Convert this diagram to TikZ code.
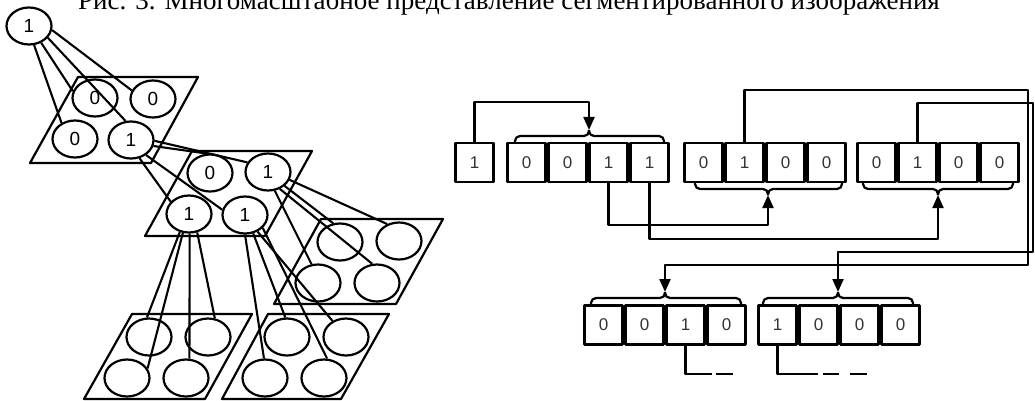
\documentclass[tikz,border=0pt]{standalone}
\usepackage{fontspec}
\setmainfont{Liberation Serif}
\setsansfont{Liberation Sans}
\usetikzlibrary{arrows.meta,shapes.geometric}
\begin{document}
\begin{tikzpicture}[x=1pt,y=-1pt,line width=2.1pt,line join=round,
  ell/.style={draw,ellipse,minimum width=45pt,minimum height=37pt,inner sep=0pt,line width=2.2pt,font=\sffamily\fontsize{19}{19}\selectfont},
  bx/.style={draw,minimum width=38pt,minimum height=39pt,inner sep=0pt,line width=2.4pt,font=\sffamily\fontsize{17}{17}\selectfont,text=black!80},
  arr/.style={-{Triangle[length=13pt,width=11pt]}},
  brc/.style={rounded corners=5pt,line width=2.2pt},
  plane/.style={line width=2.2pt}]
\useasboundingbox (0,0) rectangle (1035,401);
\node[anchor=base,font=\fontsize{27}{27}\selectfont] (cap) at (509,9.5) {Рис. 3. Многомасштабное представление сегментированного изображения};
% planes
\draw[plane] (78,77) -- (198,77) -- (151,163) -- (30,163) -- cycle;
\draw[plane] (192,151) -- (312,151) -- (265,236) -- (145,236) -- cycle;
\draw[plane] (321,219) -- (443,219) -- (396,304) -- (274,304) -- cycle;
\draw[plane] (132,314) -- (252,314) -- (205,399) -- (84,399) -- cycle;
\draw[plane] (268,314) -- (389,314) -- (341,399) -- (222,399) -- cycle;
% ellipses
\node[ell] (r0) at (29,26) {1};
\node[ell] (p1a) at (95,98) {0};
\node[ell] (p1b) at (153,99) {0};
\node[ell] (p1c) at (75,139) {0};
\node[ell] (p1d) at (131,140) {1};
\node[ell] (p2a) at (210,173) {0};
\node[ell] (p2b) at (268,172) {1};
\node[ell] (p2c) at (189,214) {1};
\node[ell] (p2d) at (245,215) {1};
\node[ell] (ra) at (340,242) {};
\node[ell] (rb) at (399,241) {};
\node[ell] (rc) at (318,283) {};
\node[ell] (rd) at (377,283) {};
\node[ell] (da) at (149,337) {};
\node[ell] (db) at (208,337) {};
\node[ell] (dc) at (127,378) {};
\node[ell] (dd) at (186,378) {};
\node[ell] (ea) at (287,337) {};
\node[ell] (eb) at (346,337) {};
\node[ell] (ec) at (265,378) {};
\node[ell] (ed) at (324,378) {};
% tree connectors
\draw (r0.-10) -- (p1b.158);
\draw (r0.-32) -- (p1d.106);
\draw (r0.-54) -- (p1a.163);
\draw (r0.-75) -- (p1c.130);
\draw (p1d.-2) -- (p2b.155);
\draw (p1d.-15) -- (p2a.99);
\draw (p1d.-45) -- (p2d.167);
\draw (p1d.-65) -- (p2c.146);
\draw (p2b.-20) -- (rb.125);
\draw (p2b.-40) -- (ra.110);
\draw (p2b.-55) -- (rd.104);
\draw (p2b.-70) -- (rc.109);
\draw (p2c.-117) -- (da.96);
\draw (p2c.-108) -- (dc.25);
\draw (p2c.-88) -- (dd.80);
\draw (p2c.-66) -- (db.70);
\draw (p2d.-90) -- (ec.93);
\draw (p2d.-66) -- (ea.95);
\draw (p2d.-53) -- (eb.130);
\draw (p2d.-36) -- (ed.81);
% boxes
\node[bx] (b0) at (474.5,162.5) {1};
\node[bx] (g1a) at (526.5,162.5) {0};
\node[bx] (g1b) at (567.5,162.5) {0};
\node[bx] (g1c) at (608.5,162.5) {1};
\node[bx] (g1d) at (649.5,162.5) {1};
\node[bx] (g2a) at (703.5,162.5) {0};
\node[bx] (g2b) at (744.5,162.5) {1};
\node[bx] (g2c) at (785.5,162.5) {0};
\node[bx] (g2d) at (826.5,162.5) {0};
\node[bx] (g3a) at (876.5,162.5) {0};
\node[bx] (g3b) at (917.5,162.5) {1};
\node[bx] (g3c) at (958.5,162.5) {0};
\node[bx] (g3d) at (999.5,162.5) {0};
\node[bx] (g4a) at (603.5,325) {0};
\node[bx] (g4b) at (644.5,325) {0};
\node[bx] (g4c) at (685.5,325) {1};
\node[bx] (g4d) at (726.5,325) {0};
\node[bx] (g5a) at (777.5,325) {1};
\node[bx] (g5b) at (818.5,325) {0};
\node[bx] (g5c) at (859.5,325) {0};
\node[bx] (g5d) at (900.5,325) {0};
% braces
\coordinate (t1) at (589,130);
\coordinate (t2) at (768,195);
\coordinate (t3) at (938,195);
\coordinate (t4) at (665,292);
\coordinate (t5) at (838,292);
\draw[brc] (515,142) -- (515,136) -- (589,136) -- (t1);
\draw[brc] (t1) -- (589,136) -- (664,136) -- (664,142);
\draw[brc] (695,183) -- (695,189) -- (768,189) -- (t2);
\draw[brc] (t2) -- (768,189) -- (842,189) -- (842,183);
\draw[brc] (863,183) -- (863,189) -- (938,189) -- (t3);
\draw[brc] (t3) -- (938,189) -- (1013,189) -- (1013,183);
\draw[brc] (591,305) -- (591,298) -- (665,298) -- (t4);
\draw[brc] (t4) -- (665,298) -- (741,298) -- (741,305);
\draw[brc] (763,305) -- (763,298) -- (838,298) -- (t5);
\draw[brc] (t5) -- (838,298) -- (913,298) -- (913,305);
% arrows
\coordinate (k1) at (1028,90);
\coordinate (k2) at (1028,265);
\coordinate (m1) at (1033,103);
\coordinate (m2) at (1033,252);
\draw[arr] (b0.north) -- ++(0,-40) -| (t1);
\draw[arr] (g1c.south) -- ++(0,42) -| (t2);
\draw[arr] (g1d.south) -- ++(0,56) -| (t3);
\draw[arr] (g2b.north) |- (k1) -- (k2) -| (t4);
\draw[arr] (g3b.north) |- (m1) -- (m2) -| (t5);
% tails
\coordinate (u1) at (712,374);
\coordinate (u2) at (716,374);
\coordinate (u3) at (733,374);
\coordinate (v1) at (818,374);
\coordinate (v2) at (823,374);
\coordinate (v3) at (839,374);
\coordinate (v4) at (850,374);
\coordinate (v5) at (867,374);
\draw (g4c.south) |- (u1);
\draw (u2) -- (u3);
\draw (g5a.south) |- (v1);
\draw (v2) -- (v3);
\draw (v4) -- (v5);
\end{tikzpicture}
\end{document}
